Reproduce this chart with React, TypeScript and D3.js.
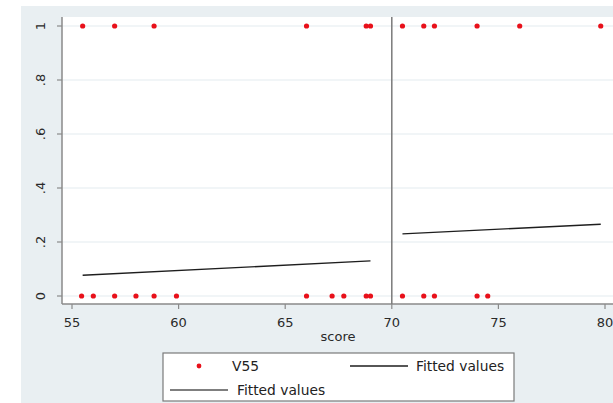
import React from "react";
import * as d3 from "d3";

// observed outcome V55 against score
const onesScore = [55.5, 57.0, 58.85, 66.0, 68.8, 69.0, 70.5, 71.5, 72.0, 74.0, 76.0, 79.8];
const zerosScore = [55.45, 56.0, 57.0, 58.0, 58.85, 59.9, 66.0, 67.2, 67.75, 68.8, 69.0, 70.5, 71.5, 72.0, 74.0, 74.5];

// fitted values on each side of the cutoff
const fitLeftX = [55.5, 69.0];
const fitLeftY = [0.077, 0.13];
const fitRightX = [70.5, 79.8];
const fitRightY = [0.23, 0.266];

const cutoff = 70;
const xTicks = [55, 60, 65, 70, 75, 80];
const yTicks = [0, 0.2, 0.4, 0.6, 0.8, 1];
const yTickLabels = ["0", ".2", ".4", ".6", ".8", "1"];

const W = 613;
const H = 403;
const font = "'DejaVu Sans', Verdana, sans-serif";

export default function App() {
	const x = d3.scaleLinear().domain([55, 80]).range([72, 605]);
	const y = d3.scaleLinear().domain([0, 1]).range([296, 26]);
	const plotTop = 17;
	const plotBottom = 304;
	const plotLeft = 62;
	const line = d3
		.line<[number, number]>()
		.x((d) => x(d[0]))
		.y((d) => y(d[1]));
	const left = fitLeftX.map((v, i) => [v, fitLeftY[i]] as [number, number]);
	const right = fitRightX.map((v, i) => [v, fitRightY[i]] as [number, number]);
	const points = [...onesScore.map((s) => [s, 1]), ...zerosScore.map((s) => [s, 0])];

	return (
		<svg width={W} height={H} style={{ position: "absolute", left: 0, top: 0, fontFamily: font }}>
			<rect x={0} y={0} width={W} height={H} fill="#ffffff" />
			<rect x={21} y={6} width={W - 21} height={H - 6} fill="#e9eff2" />
			<rect x={plotLeft} y={plotTop} width={W - plotLeft} height={plotBottom - plotTop} fill="#ffffff" />
			{yTicks.map((t) => (
				<line key={"g" + t} x1={plotLeft} x2={W} y1={y(t)} y2={y(t)} stroke="#edf2f5" strokeWidth={1.5} />
			))}
			{/* axes */}
			<line x1={plotLeft} x2={plotLeft} y1={plotTop} y2={plotBottom} stroke="#8a8a8a" strokeWidth={1.5} />
			<line x1={plotLeft} x2={W} y1={plotBottom} y2={plotBottom} stroke="#8a8a8a" strokeWidth={1.5} />
			{yTicks.map((t, i) => (
				<g key={"y" + t}>
					<line x1={plotLeft - 5} x2={plotLeft} y1={y(t)} y2={y(t)} stroke="#8a8a8a" strokeWidth={1.2} />
					<text
						transform={`translate(45,${y(t)}) rotate(-90)`}
						textAnchor="middle"
						fontSize={13}
						fill="#2a2a2a"
					>
						{yTickLabels[i]}
					</text>
				</g>
			))}
			{xTicks.map((t) => (
				<g key={"x" + t}>
					<line x1={x(t)} x2={x(t)} y1={plotBottom} y2={plotBottom + 5} stroke="#8a8a8a" strokeWidth={1.2} />
					<text x={x(t)} y={327} textAnchor="middle" fontSize={13} fill="#2a2a2a">
						{t}
					</text>
				</g>
			))}
			<text x={338} y={341} textAnchor="middle" fontSize={13} fill="#2a2a2a">
				score
			</text>
			{/* cutoff */}
			<line x1={x(cutoff)} x2={x(cutoff)} y1={plotTop} y2={plotBottom} stroke="#7a7a7a" strokeWidth={1.5} />
			{/* fitted lines */}
			<path d={line(left) ?? ""} fill="none" stroke="#1e1e1e" strokeWidth={1.4} />
			<path d={line(right) ?? ""} fill="none" stroke="#1e1e1e" strokeWidth={1.4} />
			{/* points */}
			{points.map((p, i) => (
				<circle key={i} cx={x(p[0])} cy={y(p[1])} r={2.6} fill="#e8101a" />
			))}
			{/* legend */}
			<rect x={163} y={353} width={351} height={48} fill="#ffffff" stroke="#7a7a7a" strokeWidth={1.2} />
			<circle cx={199} cy={366} r={2.4} fill="#e8101a" />
			<text x={232} y={371} fontSize={13.8} fill="#222">
				V55
			</text>
			<line x1={350} x2={408} y1={366} y2={366} stroke="#1e1e1e" strokeWidth={1.6} />
			<text x={416} y={371} fontSize={13.8} fill="#222">
				Fitted values
			</text>
			<line x1={170} x2={228} y1={390} y2={390} stroke="#555" strokeWidth={1.6} />
			<text x={237} y={395} fontSize={13.8} fill="#222">
				Fitted values
			</text>
		</svg>
	);
}
